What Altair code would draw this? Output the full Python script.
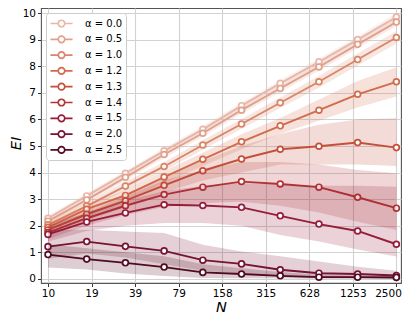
import altair as alt
import pandas as pd

# sample sizes (log-spaced) and axis ticks
N = [10, 18.47, 34.11, 62.99, 116.3, 214.8, 396.8, 732.8, 1353.0, 2500]
tick_values = [10, 19.94, 39.77, 79.31, 158.1, 315.3, 628.7, 1253.8, 2500]
y_ticks = [0, 1, 2, 3, 4, 5, 6, 7, 8, 9, 10]

alphas = ["0.0", "0.5", "1.0", "1.2", "1.3", "1.4", "1.5", "2.0", "2.5"]
colors = ["#e8b7a9", "#e2a08c", "#da8568", "#d26b4c", "#c5503a",
          "#b33434", "#961c3a", "#761232", "#520a20"]

ei_mean = {
    "0.0": [2.28, 3.12, 3.97, 4.82, 5.63, 6.52, 7.36, 8.17, 9.01, 9.86],
    "0.5": [2.17, 2.97, 3.82, 4.68, 5.48, 6.35, 7.17, 7.98, 8.83, 9.67],
    "1.0": [2.03, 2.74, 3.49, 4.23, 5.04, 5.83, 6.63, 7.42, 8.26, 9.09],
    "1.2": [1.94, 2.62, 3.14, 3.83, 4.50, 5.16, 5.76, 6.35, 6.95, 7.42],
    "1.3": [1.84, 2.43, 2.94, 3.52, 4.07, 4.51, 4.88, 4.99, 5.13, 4.94],
    "1.4": [1.74, 2.28, 2.75, 3.17, 3.45, 3.66, 3.57, 3.45, 3.07, 2.66],
    "1.5": [1.67, 2.14, 2.48, 2.79, 2.76, 2.69, 2.37, 2.06, 1.80, 1.30],
    "2.0": [1.21, 1.40, 1.22, 1.05, 0.70, 0.56, 0.34, 0.21, 0.18, 0.12],
    "2.5": [0.91, 0.74, 0.60, 0.44, 0.24, 0.18, 0.11, 0.06, 0.06, 0.05],
}
ei_lo = {
    "0.0": [2.18, 3.02, 3.87, 4.71, 5.51, 6.40, 7.24, 8.04, 8.88, 9.72],
    "0.5": [2.05, 2.85, 3.70, 4.55, 5.35, 6.22, 7.03, 7.84, 8.68, 9.51],
    "1.0": [1.88, 2.59, 3.33, 4.06, 4.86, 5.64, 6.43, 7.20, 8.03, 8.85],
    "1.2": [1.79, 2.45, 2.94, 3.61, 4.25, 4.88, 5.46, 5.95, 6.45, 6.87],
    "1.3": [1.65, 2.20, 2.70, 3.25, 3.70, 4.00, 4.30, 4.30, 4.30, 4.25],
    "1.4": [1.50, 2.00, 2.40, 2.70, 2.85, 2.90, 2.75, 2.50, 2.15, 1.84],
    "1.5": [1.40, 1.80, 2.00, 2.10, 2.10, 2.00, 1.65, 1.40, 1.10, 0.84],
    "2.0": [0.75, 0.95, 0.80, 0.55, 0.30, 0.20, 0.08, 0.03, 0.02, 0.01],
    "2.5": [0.42, 0.35, 0.20, 0.10, 0.03, 0.02, 0.01, 0.00, 0.00, 0.00],
}
ei_hi = {
    "0.0": [2.38, 3.22, 4.07, 4.93, 5.75, 6.64, 7.48, 8.30, 9.14, 10.00],
    "0.5": [2.29, 3.09, 3.94, 4.81, 5.61, 6.48, 7.31, 8.12, 8.98, 9.83],
    "1.0": [2.18, 2.89, 3.65, 4.40, 5.22, 6.02, 6.83, 7.64, 8.49, 9.33],
    "1.2": [2.09, 2.79, 3.34, 4.05, 4.75, 5.44, 6.06, 6.75, 7.45, 7.97],
    "1.3": [2.05, 2.65, 3.20, 3.80, 4.45, 5.00, 5.45, 5.80, 6.00, 6.05],
    "1.4": [2.00, 2.50, 3.10, 3.70, 4.10, 4.40, 4.40, 4.30, 4.10, 3.97],
    "1.5": [1.95, 2.50, 2.95, 3.30, 3.50, 3.60, 3.55, 3.50, 3.50, 3.47],
    "2.0": [1.85, 1.85, 1.78, 1.72, 1.28, 1.03, 0.85, 0.65, 0.45, 0.30],
    "2.5": [1.30, 1.15, 1.00, 0.85, 0.55, 0.40, 0.25, 0.15, 0.12, 0.10],
}

rows = []
for a in alphas:
    for i, n in enumerate(N):
        rows.append({"alpha": a, "N": n, "mean": ei_mean[a][i],
                     "lo": ei_lo[a][i], "hi": ei_hi[a][i]})
df = pd.DataFrame(rows)

xscale = alt.Scale(type="log", domain=[8.95, 2690], nice=False)
yscale = alt.Scale(domain=[-0.16, 10.2], nice=False, zero=False)
xaxis = alt.Axis(values=tick_values, labelExpr="floor(datum.value)", title="N",
                 grid=True, labelPadding=2, titlePadding=1,
                 labelFlush=5, labelFlushOffset=5)
yaxis = alt.Axis(values=y_ticks, title="EI", grid=True, labelPadding=2,
                 titleX=-25, titleY=135, titleAngle=270, titleAlign="center",
                 titleBaseline="middle")
cscale = alt.Scale(domain=alphas, range=colors)

legend = alt.Legend(
    title=None, orient="top-left", offset=5,
    fillColor="white", strokeColor="#cccccc", cornerRadius=3, padding=3,
    symbolType="M-1.7,0L-0.5,0M0.5,0L1.7,0M0.5,0A0.5,0.5,0,1,1,-0.5,0A0.5,0.5,0,1,1,0.5,0",
    symbolSize=169, symbolStrokeWidth=1.7, symbolOffset=5, labelOffset=16,
    symbolFillColor="white",
    labelFont="DejaVu Sans", labelFontSize=10, labelColor="black",
    rowPadding=0.8, labelExpr="'α = ' + datum.label",
)

layers = []
for a, col in zip(alphas, colors):
    d = alt.Chart(df[df["alpha"] == a])
    area = d.mark_area(color=col, opacity=0.2).encode(
        x=alt.X("N:Q", scale=xscale, axis=xaxis),
        y=alt.Y("lo:Q", scale=yscale, axis=yaxis),
        y2="hi:Q",
    )
    line = d.mark_line(strokeWidth=1.9).encode(
        x=alt.X("N:Q", scale=xscale, axis=xaxis),
        y=alt.Y("mean:Q", scale=yscale, axis=yaxis),
        stroke=alt.Stroke("alpha:N", scale=cscale, legend=legend),
    )
    pts = d.mark_point(filled=True, fill="white", size=34, strokeWidth=1.7, opacity=1).encode(
        x=alt.X("N:Q", scale=xscale, axis=xaxis),
        y=alt.Y("mean:Q", scale=yscale, axis=yaxis),
        stroke=alt.Stroke("alpha:N", scale=cscale, legend=legend),
    )
    layers += [area, line, pts]

chart = alt.layer(*layers).properties(
    width=360, height=275,
    padding={"left": 33, "top": 0, "right": 6, "bottom": 35},
    autosize=alt.AutoSizeParams(type="none"),
).configure_view(stroke="#555555", strokeWidth=1.1).configure_axis(
    domain=False, gridColor="#d2d2d2", gridWidth=1.1,
    tickColor="#333333", tickSize=3.5, tickWidth=1,
    labelFont="DejaVu Sans", labelFontSize=10.5, labelColor="black",
    titleFont="DejaVu Sans", titleFontSize=14.5, titleFontStyle="italic",
    titleFontWeight="normal", titleColor="black",
)

chart.save("out.html", embed_options={"renderer": "svg", "actions": False})
